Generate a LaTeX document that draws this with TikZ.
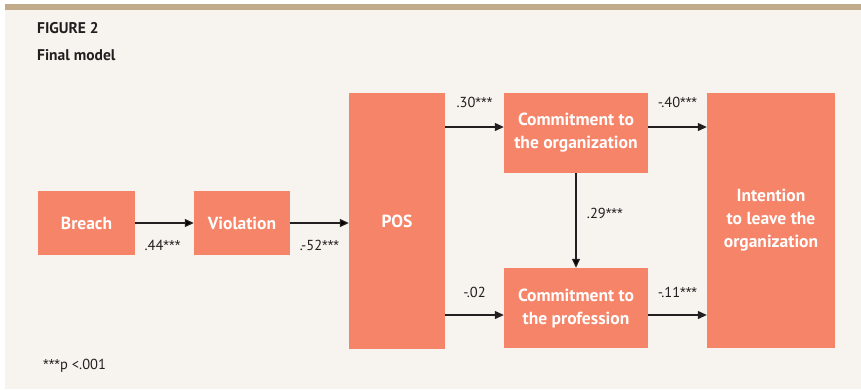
\documentclass[tikz,border=0pt]{standalone}
\usepackage{fontspec}
\setmainfont{PT Sans}
\newfontfamily\starfont{Liberation Sans}
\newcommand{\sigstars}{{\starfont ***}}
\usetikzlibrary{arrows.meta}
\definecolor{boxred}{RGB}{245,132,104}
\definecolor{panel}{RGB}{247,244,239}
\definecolor{barbrown}{RGB}{193,171,138}
\definecolor{inkgray}{RGB}{35,31,32}

\begin{document}
\begin{tikzpicture}[x=1pt, y=-1pt,
    box/.style={fill=boxred, text=white, font=\bfseries\fontsize{17.5}{23}\selectfont, align=center, inner sep=0pt},
    lbl/.style={font=\fontsize{14.5}{16}\selectfont, text=inkgray},
    head/.style={font=\bfseries\fontsize{15.5}{18}\selectfont, text=inkgray, anchor=base west, inner sep=0pt},
    link/.style={-{Triangle[length=9pt, width=8pt]}, line width=1.2pt, draw=inkgray}]
    \useasboundingbox (0,0) rectangle (861,389);
    \fill[panel] (5,4) rectangle (861,389);
    \fill[barbrown] (5,4) rectangle (861,10);

    \node[head](fig) at (37,33) {FIGURE 2};
    \node[head](title) at (37,60) {Final model};

    \node[box, minimum width=97pt, minimum height=64pt](Breach) at (86.5,223) {Breach};
    \node[box, minimum width=96pt, minimum height=64pt](Violation) at (242,223) {Violation};
    \node[box, minimum width=96pt, minimum height=256pt](POS) at (397,221) {POS};
    \node[box, minimum width=144pt, minimum height=80pt](CO) at (576,133) {Commitment to\\the organization};
    \node[box, minimum width=144pt, minimum height=80pt](CP) at (576,308) {Commitment to\\the profession};
    \node[box, minimum width=128pt, minimum height=255pt](Intent) at (771,220.5) {Intention\\to leave the\\organization};

    % ends of the side arrows
    \coordinate (coIn) at ([yshift=6pt]CO.west);
    \coordinate (coOut) at ([yshift=6pt]CO.east);
    \coordinate (cpIn) at ([yshift=-7pt]CP.west);
    \coordinate (cpOut) at ([yshift=-7pt]CP.east);

    \path[link] (Breach) edge node[lbl, xshift=-2pt, yshift=-22pt](l1) {.44\sigstars} (Violation);
    \path[link] (Violation) edge node[lbl, yshift=-22pt](l2) {.-52\sigstars} (POS.west |- Violation);
    \draw[link] (POS.east |- coIn) -- (coIn) node[midway, lbl, yshift=25pt](l3) {.30\sigstars};
    \draw[link] (POS.east |- cpIn) -- (cpIn) node[midway, lbl, yshift=23pt](l4) {-.02};
    \draw[link] (coOut) -- (Intent.west |- coOut) node[midway, lbl, yshift=25pt](l5) {-.40\sigstars};
    \draw[link] (cpOut) -- (Intent.west |- cpOut) node[midway, lbl, yshift=23pt](l6) {-.11\sigstars};
    \path[link] (CO) edge node[lbl, anchor=west, xshift=7pt, yshift=7pt](l7) {.29\sigstars} (CP);

    \node[lbl, anchor=base west, inner sep=0pt](note) at (43,369) {\sigstars p <.001};
\end{tikzpicture}
\end{document}
